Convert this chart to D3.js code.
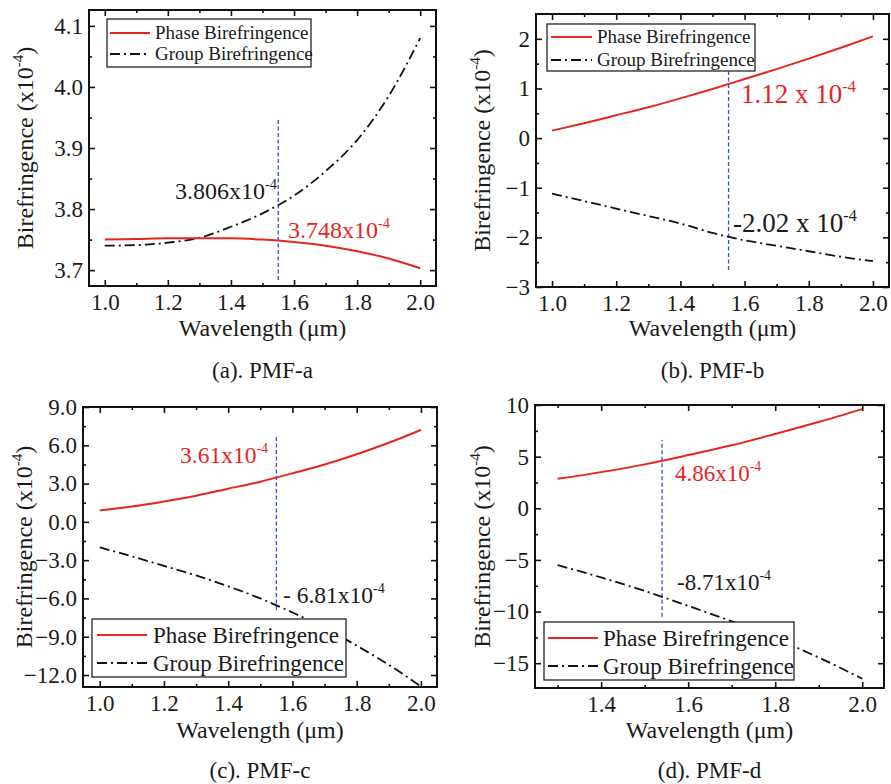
<!DOCTYPE html>
<html><head><meta charset="utf-8">
<script src="https://cdn.jsdelivr.net/npm/d3@7"></script>
<style>
body{margin:0;background:#fff}
text{font-family:"Liberation Serif","Times New Roman",serif;fill:#1a1a1a}
</style>
</head><body>
<svg id="chart" width="891" height="784"></svg>
<script>
// ---------- data ----------
const wavelengthABC = [1.0,1.1,1.2,1.3,1.4,1.5,1.6,1.7,1.8,1.9,2.0];
const wavelengthD   = [1.3,1.4,1.5,1.6,1.7,1.8,1.9,2.0];

const phaseA = [3.750,3.751,3.752,3.752,3.752,3.750,3.746,3.740,3.731,3.719,3.703];
const groupA = [3.740,3.741,3.745,3.753,3.771,3.793,3.822,3.862,3.913,3.985,4.080];

const phaseB = [0.15,0.30,0.46,0.62,0.80,0.99,1.19,1.39,1.60,1.82,2.05];
const groupB = [-1.12,-1.27,-1.42,-1.57,-1.72,-1.91,-2.06,-2.17,-2.28,-2.39,-2.48];

const phaseC = [0.9,1.2,1.6,2.05,2.6,3.15,3.8,4.5,5.3,6.2,7.2];
const groupC = [-2.0,-2.7,-3.45,-4.2,-5.05,-6.0,-7.1,-8.3,-9.7,-11.2,-12.9];

const phaseD = [2.85,3.5,4.25,5.15,6.1,7.2,8.35,9.6];
const groupD = [-5.5,-6.7,-8.0,-9.45,-10.95,-12.6,-14.45,-16.5];

const markerWavelength = [1.55,1.55,1.55,1.54];
const markerSpanA = [3.684,3.946];
const markerSpanB = [-2.66,1.34];
const markerSpanC = [-6.9,6.7];
const markerSpanD = [-10.5,6.6];

const xTicksABC = [1.0,1.2,1.4,1.6,1.8,2.0];
const xMinorABC = [1.1,1.3,1.5,1.7,1.9];
const xTicksD   = [1.4,1.6,1.8,2.0];
const xMinorD   = [1.3,1.5,1.7,1.9];

const yTicksA = [3.7,3.8,3.9,4.0,4.1];
const yMinorA = [3.75,3.85,3.95,4.05];
const yTicksB = [-3,-2,-1,0,1,2];
const yMinorB = [-2.5,-1.5,-0.5,0.5,1.5];
const yTicksC = [-12,-9,-6,-3,0,3,6,9];
const yMinorC = [-10.5,-7.5,-4.5,-1.5,1.5,4.5,7.5];
const yTicksD = [-15,-10,-5,0,5,10];
const yMinorD = [-12.5,-7.5,-2.5,2.5,7.5];

const legendLabels = ["Phase Birefringence","Group Birefringence"];
const captions = ["(a). PMF-a","(b). PMF-b","(c). PMF-c","(d). PMF-d"];
const phaseNotes = ["3.748x10","1.12 x 10","3.61x10","4.86x10"];
const groupNotes = ["3.806x10","-2.02 x 10","- 6.81x10","-8.71x10"];
const xTitle = "Wavelength (\u03bcm)";

// ---------- styling ----------
const RED = "#e5261f", BLACK = "#111", BLUE = "#3550c8";
const GROUP_DASH = "10,4,2,4";
const svg = d3.select("#chart");
svg.append("rect").attr("width",891).attr("height",784).attr("fill","#fff");

function supText(sel, base, sup, size, color){
  sel.attr("font-size", size).style("fill", color);
  sel.append("tspan").text(base);
  sel.append("tspan").attr("font-size", size*0.6).attr("dy", -size*0.42).text(sup);
}

function panel(cfg){
  const g = svg.append("g");
  const x = d3.scaleLinear().domain(cfg.xDomain).range([cfg.left, cfg.right]);
  const y = d3.scaleLinear().domain(cfg.yDomain).range([cfg.bottom, cfg.top]);
  const TS = 23;

  // axes
  const axes = [
    [d3.axisBottom(x).tickValues(cfg.xTicks).tickSize(-6).tickPadding(24 - 0.71*TS).tickFormat(d3.format(".1f")), `translate(0,${cfg.bottom})`, true],
    [d3.axisBottom(x).tickValues(cfg.xMinor).tickSize(-3).tickFormat(""), `translate(0,${cfg.bottom})`, false],
    [d3.axisTop(x).tickValues(cfg.xTicks).tickSize(-6).tickFormat(""), `translate(0,${cfg.top})`, false],
    [d3.axisTop(x).tickValues(cfg.xMinor).tickSize(-3).tickFormat(""), `translate(0,${cfg.top})`, false],
    [d3.axisLeft(y).tickValues(cfg.yTicks).tickSize(-6).tickPadding(6).tickFormat(cfg.yFormat), `translate(${cfg.left},0)`, true],
    [d3.axisLeft(y).tickValues(cfg.yMinor).tickSize(-3).tickFormat(""), `translate(${cfg.left},0)`, false],
    [d3.axisRight(y).tickValues(cfg.yTicks).tickSize(-6).tickFormat(""), `translate(${cfg.right},0)`, false],
    [d3.axisRight(y).tickValues(cfg.yMinor).tickSize(-3).tickFormat(""), `translate(${cfg.right},0)`, false]
  ];
  axes.forEach(([ax, tr, lab]) => {
    const a = g.append("g").attr("transform", tr).call(ax);
    a.select(".domain").remove();
    a.selectAll(".tick line").attr("stroke", BLACK).attr("stroke-width", 1.6);
    a.selectAll(".tick text").attr("font-size", TS).attr("font-family", '"Liberation Serif",serif').style("fill","#1a1a1a");
  });

  // box
  g.append("rect").attr("x", cfg.left).attr("y", cfg.top)
    .attr("width", cfg.right - cfg.left).attr("height", cfg.bottom - cfg.top)
    .attr("fill","none").attr("stroke", BLACK).attr("stroke-width", 2);

  // marker line
  g.append("line")
    .attr("x1", x(cfg.marker)).attr("x2", x(cfg.marker))
    .attr("y1", y(cfg.markerSpan[0])).attr("y2", y(cfg.markerSpan[1]))
    .attr("stroke", BLUE).attr("stroke-width", 1.3).attr("stroke-dasharray","4,2.5");

  const line = d3.line().x((d,i)=>x(cfg.wl[i])).y(d=>y(d)).curve(d3.curveMonotoneX);
  g.append("path").datum(cfg.group).attr("d", line).attr("fill","none")
    .attr("stroke", BLACK).attr("stroke-width", 1.8).attr("stroke-dasharray", GROUP_DASH);
  g.append("path").datum(cfg.phase).attr("d", line).attr("fill","none")
    .attr("stroke", RED).attr("stroke-width", 2);

  // legend
  const L = cfg.legend;
  g.append("rect").attr("x", L.x0).attr("y", L.y0).attr("width", L.x1-L.x0).attr("height", L.y1-L.y0)
    .attr("fill","#fff").attr("stroke", BLACK).attr("stroke-width", 1.2);
  L.rows.forEach((ry, i) => {
    g.append("line").attr("x1", L.s0).attr("x2", L.s1).attr("y1", ry).attr("y2", ry)
      .attr("stroke", i===0?RED:BLACK).attr("stroke-width", i===0?2:1.8)
      .attr("stroke-dasharray", i===0?null:GROUP_DASH);
    g.append("text").attr("x", L.tx).attr("y", ry).attr("dy","0.33em")
      .attr("font-size", L.fs).text(legendLabels[i]);
  });

  // annotations
  supText(g.append("text").attr("x", cfg.pNote[0]).attr("y", cfg.pNote[1]), cfg.pText, "-4", cfg.noteSize, RED);
  supText(g.append("text").attr("x", cfg.gNote[0]).attr("y", cfg.gNote[1]), cfg.gText, "-4", cfg.noteSize, "#1a1a1a");

  // axis titles
  g.append("text").attr("x", (cfg.left+cfg.right)/2).attr("y", cfg.xTitleY)
    .attr("text-anchor","middle").attr("font-size", 24).text(xTitle);
  const yt = g.append("text")
    .attr("transform", `translate(${cfg.yTitleX},${(cfg.top+cfg.bottom)/2}) rotate(-90)`)
    .attr("text-anchor","middle").attr("font-size", 24);
  yt.append("tspan").text("Birefringence (x10");
  yt.append("tspan").attr("font-size", 15).attr("dy", -10).text("-4");
  yt.append("tspan").attr("dy", 10).text(")");

  // caption
  g.append("text").attr("x", (cfg.left+cfg.right)/2).attr("y", cfg.capY)
    .attr("text-anchor","middle").attr("font-size", 23).text(cfg.caption);
}

panel({left:89,right:436,top:10,bottom:286,xDomain:[0.95,2.05],yDomain:[3.674,4.126],
  xTicks:xTicksABC,xMinor:xMinorABC,yTicks:yTicksA,yMinor:yMinorA,yFormat:d3.format(".1f"),
  wl:wavelengthABC,phase:phaseA,group:groupA,marker:markerWavelength[0],markerSpan:markerSpanA,
  legend:{x0:107,x1:311,y0:19,y1:67,s0:110,s1:150,tx:155,rows:[33,54],fs:19},
  pText:phaseNotes[0],gText:groupNotes[0],pNote:[288,238],gNote:[175,199],noteSize:24,
  xTitleY:336,yTitleX:33,capY:378,caption:captions[0]});

panel({left:536,right:889,top:14,bottom:287,xDomain:[0.95,2.05],yDomain:[-3,2.5],
  xTicks:xTicksABC,xMinor:xMinorABC,yTicks:yTicksB,yMinor:yMinorB,yFormat:d3.format("d"),
  wl:wavelengthABC,phase:phaseB,group:groupB,marker:markerWavelength[1],markerSpan:markerSpanB,
  legend:{x0:547,x1:755,y0:24,y1:71,s0:551,s1:592,tx:597,rows:[37,60],fs:19},
  pText:phaseNotes[1],gText:groupNotes[1],pNote:[741,103],gNote:[733,232],noteSize:27,
  xTitleY:336,yTitleX:490,capY:378,caption:captions[1]});

panel({left:83,right:437,top:407,bottom:687,xDomain:[0.948,2.05],yDomain:[-12.94,9],
  xTicks:xTicksABC,xMinor:xMinorABC,yTicks:yTicksC,yMinor:yMinorC,yFormat:d3.format(".1f"),
  wl:wavelengthABC,phase:phaseC,group:groupC,marker:markerWavelength[2],markerSpan:markerSpanC,
  legend:{x0:92,x1:346,y0:619,y1:677,s0:97,s1:147,tx:153,rows:[635,663],fs:23},
  pText:phaseNotes[2],gText:groupNotes[2],pNote:[180,463],gNote:[283,603],noteSize:23.5,
  xTitleY:738,yTitleX:32,capY:778,caption:captions[2]});

panel({left:535,right:884,top:405,bottom:688,xDomain:[1.248,2.05],yDomain:[-17.4,10],
  xTicks:xTicksD,xMinor:xMinorD,yTicks:yTicksD,yMinor:yMinorD,yFormat:d3.format("d"),
  wl:wavelengthD,phase:phaseD,group:groupD,marker:markerWavelength[3],markerSpan:markerSpanD,
  legend:{x0:544,x1:794,y0:622,y1:680,s0:548,s1:598,tx:603,rows:[638,666],fs:23},
  pText:phaseNotes[3],gText:groupNotes[3],pNote:[675,481],gNote:[677,590],noteSize:23,
  xTitleY:738,yTitleX:490,capY:778,caption:captions[3]});
</script>
</body></html>
